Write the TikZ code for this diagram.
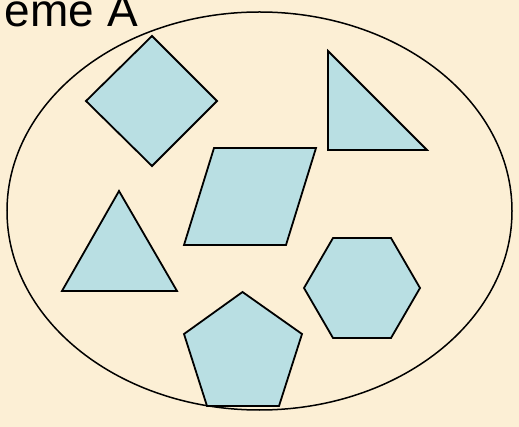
\documentclass[tikz,border=0pt]{standalone}
\usepackage{fontspec}
\setmainfont{Liberation Sans}
\usepackage{tikz}
\definecolor{ParchmentBg}{HTML}{FCEFD5}
\definecolor{ShapeCyan}{HTML}{B9DFE3}

\begin{document}
\begin{tikzpicture}[x=1pt, y=-1pt]
        \tikzset{shapefill/.style={fill=ShapeCyan, draw=black, line width=1.8pt, line join=miter}}
        \fill[ParchmentBg] (0,0) rectangle (519,427);
        \useasboundingbox (0,0) rectangle (519,427);
        \node[anchor=base east, inner sep=0pt, font=\fontsize{46}{50}\selectfont] (title) at (138,27) {eme A};
        \draw[line width=1.5pt] (259.5,211) ellipse [x radius=252.5pt, y radius=199pt];
        % losange
        \draw[shapefill] (152,36) -- (217,101) -- (152,166) -- (86,101) -- cycle;
        % triangle rectangle
        \draw[shapefill] (328,51) -- (328,150) -- (427,150) -- cycle;
        % parallelogramme
        \draw[shapefill] (214,148) -- (316,148) -- (286,245) -- (184,245) -- cycle;
        % triangle
        \draw[shapefill] (119,191) -- (177,291) -- (62,291) -- cycle;
        % hexagone
        \draw[shapefill] (304,288) -- (333,238) -- (391,238) -- (420,288) -- (391,338) -- (333,338) -- cycle;
        % pentagone
        \draw[shapefill] (242.5,292) -- (302,334) -- (279,406) -- (207,406) -- (184,334) -- cycle;
      \end{tikzpicture}
\end{document}
